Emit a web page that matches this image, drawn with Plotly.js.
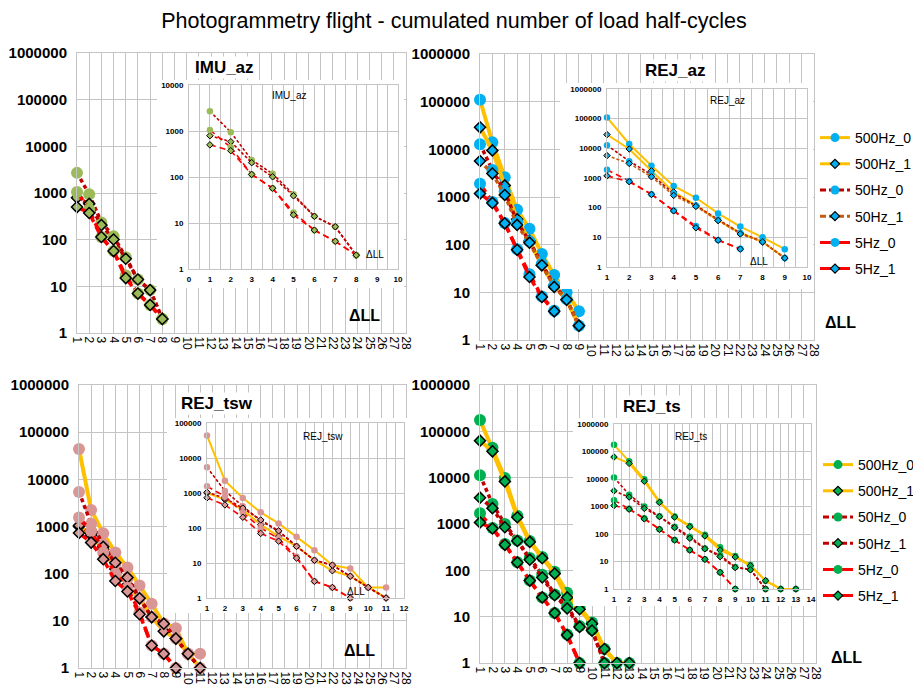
<!DOCTYPE html>
<html><head><meta charset="utf-8">
<script src="https://cdn.plot.ly/plotly-3.0.1.min.js"></script>
<style>html,body{margin:0;padding:0;background:#fff;overflow:hidden}#chart{width:913px;height:687px;}</style>
</head><body><div id="chart"></div>
<script>
// ---------------- DATA ----------------
const mainCategories = [1,2,3,4,5,6,7,8,9,10,11,12,13,14,15,16,17,18,19,20,21,22,23,24,25,26,27,28];
const seriesNames = ['500Hz_0','500Hz_1','50Hz_0','50Hz_1','5Hz_0','5Hz_1'];

// IMU_az (top left)
const imuX = [1,2,3,4,5,6,7,8];
const imu_50Hz_0 = [2700, 940, 234, 118, 42, 14, 8.3, 2];
const imu_50Hz_1 = [790, 585, 205, 101, 39, 14, 8.3, 2];
const imu_5Hz_0  = [1050, 442, 114, 57, 17, 7, 4, 2];
const imu_5Hz_1  = [500, 373, 114, 57, 15, 7, 4, 2];

// REJ_az (top right)
const rejazX = [1,2,3,4,5,6,7,8,9];
const rejaz_500Hz_0 = [110000, 14000, 2600, 540, 215, 64, 23, 10, 4];
const rejaz_500Hz_1 = [29000, 9500, 1750, 340, 120, 37, 14, 7, 2];
const rejaz_50Hz_0  = [12800, 3700, 1300, 300, 118, 40, 14, 7.2, 2];
const rejaz_50Hz_1  = [5700, 3100, 1100, 260, 110, 37, 13, 7, 2];
const rejaz_5Hz_0   = [1900, 790, 285, 80, 24, 8.2, 4.1];
const rejaz_5Hz_1   = [1180, 750, 280, 78, 21, 8, 4];

// REJ_tsw (bottom left)
const tswX = [1,2,3,4,5,6,7,8,9,10,11];
const tsw_500Hz_0 = [44000, 2250, 720, 280, 135, 56, 23, 8.7, 7, 2, 2];
const tsw_500Hz_1 = [1000, 650, 330, 125, 58, 30, 12, 6, 4.2, 2, 1];
const tsw_50Hz_0  = [5400, 1150, 420, 160, 80, 30, 12, 8.7, 4.2, 2, 1];
const tsw_50Hz_1  = [1050, 710, 370, 170, 83, 30, 12, 8.7, 4.2, 2, 1];
const tsw_5Hz_0   = [1550, 800, 280, 100, 50, 15, 3, 2, 1];
const tsw_5Hz_1   = [730, 457, 203, 70, 42, 13.8, 3, 2, 1];

// REJ_ts (bottom right)
const tsX = [1,2,3,4,5,6,7,8,9,10,11,12,13];
const ts_500Hz_0 = [175000, 44000, 9800, 1500, 430, 195, 93, 33, 16, 7.5, 2, 1, 1];
const ts_500Hz_1 = [63000, 37000, 8300, 1400, 410, 182, 85, 26, 14.5, 7, 2, 1, 1];
const ts_50Hz_0  = [11300, 2700, 1000, 440, 185, 80, 30, 17, 6.3, 5.2, 1];
const ts_50Hz_1  = [3700, 2200, 850, 430, 170, 70, 29, 15, 6, 5, 1];
const ts_5Hz_0   = [1700, 820, 370, 150, 60, 26, 12, 4.1, 1];
const ts_5Hz_1   = [1080, 800, 355, 148, 60, 26, 12, 4, 1];

const panelTitles = ['IMU_az', 'REJ_az', 'REJ_tsw', 'REJ_ts'];
const axisLabel = 'ΔLL';
const chartTitle = 'Photogrammetry flight - cumulated number of load half-cycles';

// ---------------- STYLE / LAYOUT ----------------
const W = 913, H = 687;
const F = 'Liberation Sans, Arial, sans-serif';
const G = '#C4C4C4';
const xd = (a, b) => [a / W, b / W];
const yd = (t, b) => [1 - b / H, 1 - t / H];

const panels = [
  { title: panelTitles[0], cats: imuX, color: '#9BBB59', c50b: '#C00000',
    data: { '50Hz_0': imu_50Hz_0, '50Hz_1': imu_50Hz_1, '5Hz_0': imu_5Hz_0, '5Hz_1': imu_5Hz_1 },
    main: { x: [77, 406], y: [53, 333] }, box: { x: [157, 404], y: [80, 288] },
    inset: { x: [189, 398], y: [85, 269], xr: [0, 10], yr: 4 },
    titlePos: [224, 68], insetTitlePos: [289, 95], dllPos: [364, 315], insetDllPos: [375, 255], legend: null },
  { title: panelTitles[1], cats: rejazX, color: '#00B0F0', c50b: '#C55A11',
    data: { '500Hz_0': rejaz_500Hz_0, '500Hz_1': rejaz_500Hz_1, '50Hz_0': rejaz_50Hz_0, '50Hz_1': rejaz_50Hz_1, '5Hz_0': rejaz_5Hz_0, '5Hz_1': rejaz_5Hz_1 },
    main: { x: [480, 814], y: [54, 340] }, box: { x: [560, 813], y: [83, 289] },
    inset: { x: [607, 807], y: [89, 267], xr: [1, 10], yr: 6 },
    titlePos: [675, 71], insetTitlePos: [727, 101], dllPos: [840, 323], insetDllPos: [759, 262], legend: 'legend' },
  { title: panelTitles[2], cats: tswX, color: '#D99694', c50b: '#C00000',
    data: { '500Hz_0': tsw_500Hz_0, '500Hz_1': tsw_500Hz_1, '50Hz_0': tsw_50Hz_0, '50Hz_1': tsw_50Hz_1, '5Hz_0': tsw_5Hz_0, '5Hz_1': tsw_5Hz_1 },
    main: { x: [79, 406], y: [385, 668] }, box: { x: [167, 407], y: [418, 613] },
    inset: { x: [207, 404], y: [423, 598], xr: [1, 12], yr: 5 },
    titlePos: [217, 403], insetTitlePos: [323, 436], dllPos: [359, 650], insetDllPos: [356, 591], legend: null },
  { title: panelTitles[3], cats: tsX, color: '#00B050', c50b: '#C00000',
    data: { '500Hz_0': ts_500Hz_0, '500Hz_1': ts_500Hz_1, '50Hz_0': ts_50Hz_0, '50Hz_1': ts_50Hz_1, '5Hz_0': ts_5Hz_0, '5Hz_1': ts_5Hz_1 },
    main: { x: [480, 816], y: [385, 663] }, box: { x: [573, 816], y: [418, 606] },
    inset: { x: [614, 811], y: [424, 589], xr: [1, 14], yr: 6 },
    titlePos: [652, 406], insetTitlePos: [691, 436], dllPos: [846, 657], insetDllPos: null, legend: 'legend2' }
];

function seriesStyle(name, p) {
  const is500 = name.startsWith('500'), is50 = name.startsWith('50Hz');
  const diamond = name.endsWith('_1');
  let color = '#FF0000';
  if (is500) color = '#FFC000';
  else if (is50) color = diamond ? p.c50b : '#C00000';
  return { color, kind: is500 ? 'solid' : (is50 ? 'short' : 'long'), diamond };
}

// split a polyline into separate segments so a dash pattern restarts at each data point (as Excel does)
function segmented(xs, ys) {
  const sx = [], sy = [];
  for (let k = 0; k < xs.length - 1; k++) { sx.push(xs[k], xs[k + 1], null); sy.push(ys[k], ys[k + 1], null); }
  return { x: sx, y: sy };
}

const traces = [];
const layout = {
  width: W, height: H, margin: { l: 0, r: 0, t: 0, b: 0, autoexpand: false },
  paper_bgcolor: '#fff', plot_bgcolor: '#fff', showlegend: true,
  font: { family: F, color: '#000' },
  title: { text: chartTitle, x: 454 / W, xanchor: 'center', y: 1 - 20 / H, yanchor: 'middle', font: { size: 21.5, family: F, color: '#000' } },
  annotations: []
};

function addSeries(xs, vals, xa, ya, name, st, lineW, dash, marker) {
  if (st.kind === 'solid') {
    traces.push({ type: 'scatter', mode: 'lines+markers', x: xs, y: vals, xaxis: xa, yaxis: ya,
      name, showlegend: false, cliponaxis: false, hoverinfo: 'skip',
      line: { color: st.color, width: lineW }, marker });
  } else {
    const s = segmented(xs, vals);
    traces.push({ type: 'scatter', mode: 'lines', x: s.x, y: s.y, xaxis: xa, yaxis: ya, connectgaps: false,
      name, showlegend: false, cliponaxis: false, hoverinfo: 'skip',
      line: { color: st.color, width: lineW, dash } });
    traces.push({ type: 'scatter', mode: 'markers', x: xs, y: vals, xaxis: xa, yaxis: ya,
      name, showlegend: false, cliponaxis: false, hoverinfo: 'skip', marker });
  }
}

panels.forEach((p, i) => {
  const mi = i + 1, bi = i + 5, ii = i + 9;
  const mx = mi === 1 ? 'x' : 'x' + mi, my = mi === 1 ? 'y' : 'y' + mi;
  const mxk = mi === 1 ? 'xaxis' : 'xaxis' + mi, myk = mi === 1 ? 'yaxis' : 'yaxis' + mi;

  layout[mxk] = { domain: xd(...p.main.x), anchor: my, range: [1, 28], tick0: 1, dtick: 1,
    showgrid: true, gridcolor: G, gridwidth: 1, showline: true, mirror: true, linecolor: G,
    zeroline: false, tickangle: 90, ticks: '', tickfont: { size: 12, color: '#000', family: F }, fixedrange: true };
  layout[myk] = { domain: yd(...p.main.y), anchor: mx, type: 'log', range: [0, 6], dtick: 1, tickformat: 'd',
    showgrid: true, gridcolor: G, showline: true, mirror: true, linecolor: G,
    ticks: '', ticklabelstandoff: 6, tickfont: { size: 15, weight: 'bold', color: '#000', family: F }, fixedrange: true };

  // white box behind inset
  layout['xaxis' + bi] = { domain: xd(...p.box.x), anchor: 'y' + bi, visible: false, range: [0, 1], fixedrange: true };
  layout['yaxis' + bi] = { domain: yd(...p.box.y), anchor: 'x' + bi, visible: false, range: [0, 1], fixedrange: true };
  traces.push({ type: 'scatter', x: [], y: [], xaxis: 'x' + bi, yaxis: 'y' + bi, showlegend: false, hoverinfo: 'skip' });

  // inset axes
  layout['xaxis' + ii] = { domain: xd(...p.inset.x), anchor: 'y' + ii, range: p.inset.xr, tick0: 0, dtick: 1,
    showgrid: true, gridcolor: G, minor: { dtick: 0.5, tick0: 0, showgrid: true, gridcolor: G, ticks: '' },
    showline: true, mirror: true, linecolor: G, zeroline: false, ticks: '', ticklabelstandoff: 2,
    tickfont: { size: 8, weight: 'bold', color: '#000', family: F }, fixedrange: true };
  layout['yaxis' + ii] = { domain: yd(...p.inset.y), anchor: 'x' + ii, type: 'log', range: [0, p.inset.yr], dtick: 1,
    tickformat: 'd', showgrid: true, gridcolor: G, showline: true, mirror: true, linecolor: G,
    ticks: '', ticklabelstandoff: 3, tickfont: { size: 8, weight: 'bold', color: '#000', family: F }, fixedrange: true };

  seriesNames.forEach(name => {
    const vals = p.data[name];
    if (!vals) return;
    const st = seriesStyle(name, p);
    const xs = p.cats.slice(0, vals.length);
    const mainDash = st.kind === 'short' ? '4px,3px' : '10px,5px';
    const inDash = st.kind === 'short' ? '3px,2px' : '6px,4px';
    addSeries(xs, vals, mx, my, name, st, st.kind === 'solid' ? 4 : 3.5, mainDash,
      st.diamond ? { symbol: 'diamond', size: 8.5, color: p.color, line: { color: '#000', width: 1.5 } }
                 : { symbol: 'circle', size: 12, color: p.color, line: { width: 0 } });
    addSeries(xs, vals, 'x' + ii, 'y' + ii, name, st, st.kind === 'solid' ? 2 : 1.6, inDash,
      st.diamond ? { symbol: 'diamond', size: 5, color: p.color, line: { color: '#000', width: 1 } }
                 : { symbol: 'circle', size: 6.5, color: p.color, line: { width: 0 } });
    if (p.legend) {
      const lgDash = st.kind === 'solid' ? 'solid' : (st.kind === 'short' ? '6px,3px' : '14px,2px');
      traces.push({ type: 'scatter', mode: 'lines+markers', x: [null], y: [null], xaxis: mx, yaxis: my,
        name, showlegend: true, legend: p.legend, legendgroup: p.legend + name, hoverinfo: 'skip',
        line: { color: st.color, width: 3, dash: lgDash },
        marker: st.diamond ? { symbol: 'diamond', size: 7, color: p.color, line: { color: '#000', width: 1.2 } }
                           : { symbol: 'circle', size: 9, color: p.color, line: { width: 0 } } });
    }
  });

  const ann = (pos, text, size, bold, bg) => layout.annotations.push({
    xref: 'paper', yref: 'paper', x: pos[0] / W, y: 1 - pos[1] / H, xanchor: 'center', yanchor: 'middle',
    text, showarrow: false, bgcolor: bg || 'rgba(0,0,0,0)',
    font: { size, family: F, color: '#000', weight: bold ? 'bold' : 'normal' } });
  ann(p.titlePos, p.title, 17, true, '#fff');
  ann(p.insetTitlePos, p.title, 10, false);
  ann(p.dllPos, axisLabel, 16, true);
  if (p.insetDllPos) ann(p.insetDllPos, axisLabel, 10, false);
});

const legendCommon = { xanchor: 'left', yanchor: 'top', bgcolor: 'rgba(0,0,0,0)', borderwidth: 0,
  font: { size: 14, family: F, color: '#000' }, tracegroupgap: 5, itemwidth: 30, traceorder: 'grouped' };
layout.legend = Object.assign({}, legendCommon, { x: 815 / W, y: 1 - 122 / H });
layout.legend2 = Object.assign({}, legendCommon, { x: 818 / W, y: 1 - 449 / H });

Plotly.newPlot('chart', traces, layout, { displayModeBar: false, staticPlot: true });
</script></body></html>
